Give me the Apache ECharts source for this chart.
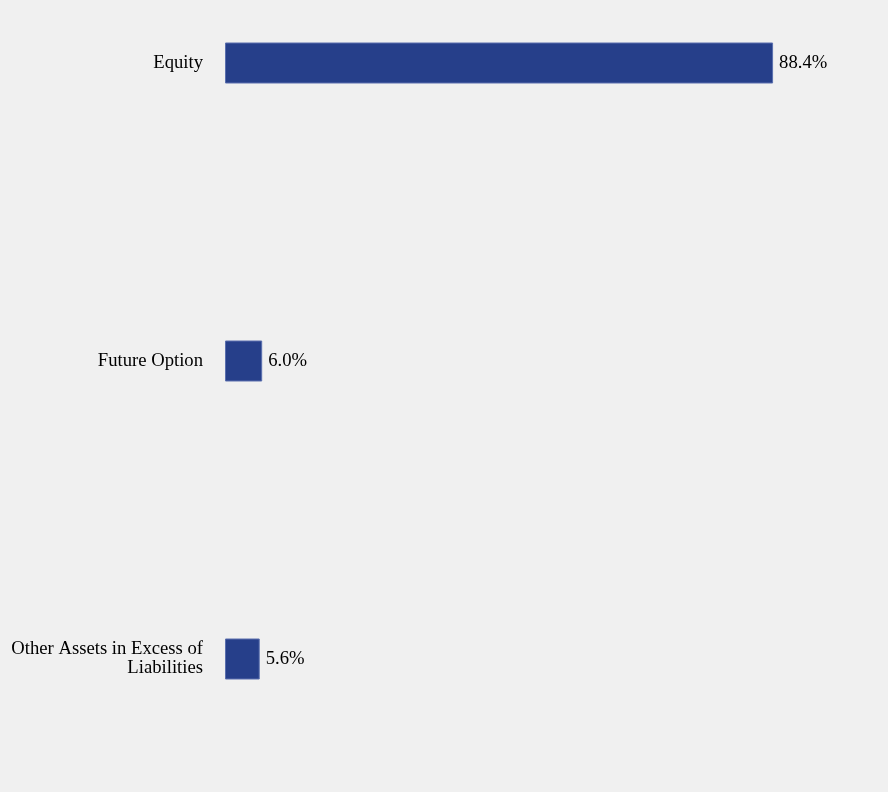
<!DOCTYPE html>
<html><head><meta charset="utf-8">
<style>html,body{margin:0;padding:0;background:#f0f0f0;}#c{width:888px;height:792px;}</style>
<script src="https://cdn.jsdelivr.net/npm/echarts@6/dist/echarts.min.js"></script>
</head><body><div id="c"></div>
<script>
const categories = ["Equity", "Future Option", "Other Assets in Excess of\nLiabilities"];
const values = [88.4, 6.0, 5.6];
const chart = echarts.init(document.getElementById('c'), null, {renderer: 'canvas'});
chart.setOption({
  backgroundColor: '#f0f0f0',
  animation: false,
  grid: {left: 225, right: 43, top: 63, bottom: 133, containLabel: false},
  xAxis: {type: 'value', min: 0, max: 100, show: false},
  yAxis: {
    type: 'category', data: categories, inverse: true, boundaryGap: false,
    axisLine: {show: false}, axisTick: {show: false}, splitLine: {show: false},
    axisLabel: {margin: 22, color: '#000', fontFamily: 'Liberation Serif', fontSize: 18.67, lineHeight: 19, align: 'right', padding: [4, 0, 0, 0]}
  },
  series: [{
    type: 'bar', data: values, barWidth: 41,
    itemStyle: {color: '#263f8a', borderColor: '#5a6fae', borderWidth: 1},
    label: {show: true, position: 'right', distance: 6, color: '#000', fontFamily: 'Liberation Serif', fontSize: 18.67, padding: [4, 0, 0, 0],
      formatter: p => p.value.toFixed(1) + '%'}
  }]
});
</script></body></html>
